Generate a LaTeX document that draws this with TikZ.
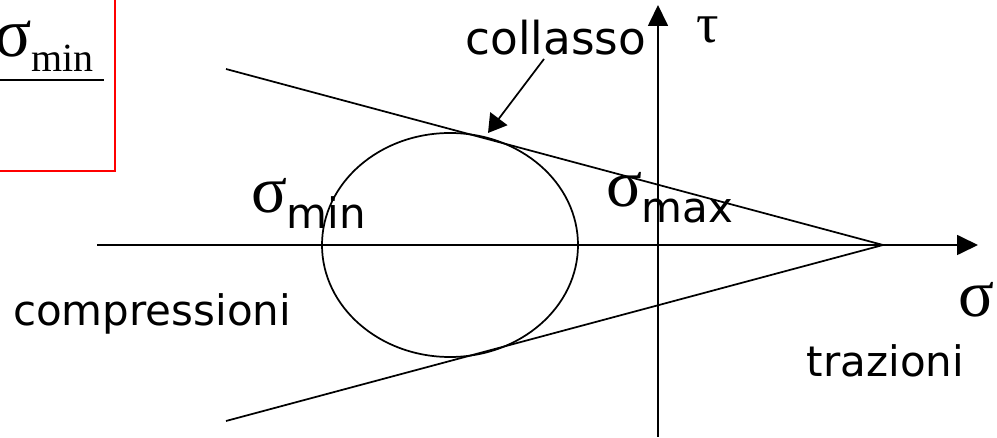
\documentclass[tikz,border=0pt]{standalone}
\usepackage{fontspec}
\setmainfont{DejaVu Sans}
\newfontfamily\serf{Liberation Serif}
\usetikzlibrary{arrows.meta,calc}
\newcommand\bigsig{{\serf\fontsize{50}{54}\selectfont σ}}
\newcommand\sgsub[1]{\bigsig\raisebox{-12pt}{#1}}
\tikzset{
  lbl/.style={inner sep=0pt, outer sep=0pt, font=\fontsize{31.5}{36}\selectfont},
  axis/.style={line width=1.3pt, -{Triangle[length=15.75pt,width=15pt]}},
  thin/.style={line width=1.3pt},
}
\begin{document}
\begin{tikzpicture}[x=0.75pt,y=-0.75pt]
\useasboundingbox (0,0) rectangle (997,438);
% red box (partly cut off)
\draw[red, line width=1.5pt] (-10,-10) rectangle (115,171);
\node[inner sep=0pt, anchor=base west] (boxsig) at (-6,57)
  {{\serf\fontsize{52}{56}\selectfont σ}\raisebox{-11pt}{\serf\fontsize{30}{34}\selectfont min}};
\coordinate (fl) at (-5,80);
\coordinate (fr) at (104,80);
\draw[line width=1.5pt] (fl) -- (fr);
% axes
\coordinate (xs) at (97,245);
\coordinate (xe) at (978,245);
\coordinate (ys) at (658,437);
\coordinate (ye) at (658,5);
\draw[axis] (xs) -- (xe);
\draw[axis] (ys) -- (ye);
% cone
\coordinate (apex) at (883,245);
\coordinate (ul) at (226,69);
\coordinate (ll) at (226,421);
\draw[thin] (ul) -- (apex) -- (ll);
% circle (ellipse)
\coordinate (c) at (450,245);
\draw[thin] (c) ellipse [x radius=96pt, y radius=84pt];
% labels
\node[lbl, anchor=base, font=\fontsize{34}{38}\selectfont] (coll) at (556,55) {collasso};
\coordinate (tan) at (488,133);
\draw[line width=1.3pt, -{Triangle[length=13.5pt,width=16pt]}] ($(coll.base)+(-12,4)$) -- (tan);
\node[inner sep=0pt, anchor=base] (tau) at (708,43) {\serf\fontsize{42}{46}\selectfont τ};
\node[lbl, anchor=base west] (smin) at (251,213) {\sgsub{min}};
\node[lbl, anchor=base west] (smax) at (606,207) {\sgsub{max}};
\node[lbl, anchor=base west] (comp) at (13,326) {compressioni};
\node[lbl, anchor=base east] (traz) at (964,377) {trazioni};
\node[inner sep=0pt, anchor=base west] (sig) at (958,317) {\bigsig};
\end{tikzpicture}
\end{document}
